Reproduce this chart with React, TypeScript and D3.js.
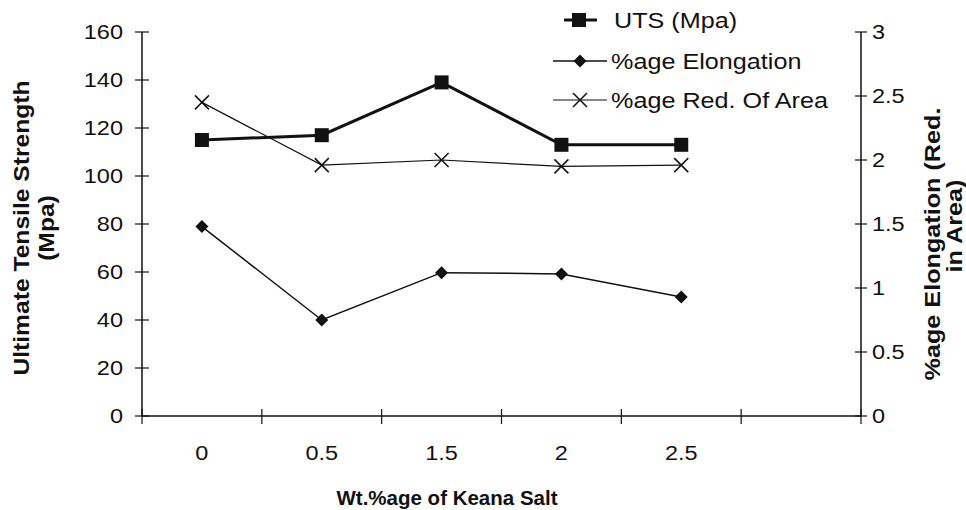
import React from "react";
import * as d3 from "d3";

const categories = ["0", "0.5", "1.5", "2", "2.5", ""];
const uts = [115, 117, 139, 113, 113];
const elongation = [1.48, 0.75, 1.12, 1.11, 0.93];
const redArea = [2.45, 1.96, 2.0, 1.95, 1.96];
const leftTicks = [0, 20, 40, 60, 80, 100, 120, 140, 160];
const rightTicks = [0, 0.5, 1, 1.5, 2, 2.5, 3];

const FONT = "'Liberation Sans', Arial, sans-serif";

function T({ x, y, anchor = "start", size = 21, bold = false, rotate = 0, sx = 1.12, children }: any) {
  return (
    <g transform={`translate(${x},${y}) rotate(${rotate}) scale(${sx},1)`}>
      <text
        x={0}
        y={0}
        textAnchor={anchor}
        dominantBaseline="central"
        fontFamily={FONT}
        fontSize={size}
        fontWeight={bold ? "bold" : "normal"}
        fill="#111"
      >
        {children}
      </text>
    </g>
  );
}

export default function App() {
  const W = 966, H = 510;
  const left = 142, right = 861, top = 32, bottom = 416;
  const x = d3.scaleBand<string>().domain(categories.map((c, i) => String(i))).range([left, right]);
  const cx = (i: number) => (x(String(i)) as number) + x.bandwidth() / 2;
  const yL = d3.scaleLinear().domain([0, 160]).range([bottom, top]);
  const yR = d3.scaleLinear().domain([0, 3]).range([bottom, top]);

  const lineL = d3.line<number>().x((_, i) => cx(i)).y((d) => yL(d));
  const lineR = d3.line<number>().x((_, i) => cx(i)).y((d) => yR(d));

  const boundaries = d3.range(categories.length + 1).map((i) => left + i * x.step());

  const diamond = (px: number, py: number, r = 6.5) =>
    `M${px},${py - r}L${px + r},${py}L${px},${py + r}L${px - r},${py}Z`;
  const cross = (px: number, py: number, r = 7) =>
    `M${px - r},${py - r}L${px + r},${py + r}M${px - r},${py + r}L${px + r},${py - r}`;

  return (
    <svg width={W} height={H} style={{ position: "absolute", left: 0, top: 0, background: "#fff" }}>
      <rect width={W} height={H} fill="#fff" />
      {/* axes */}
      <line x1={left} x2={left} y1={top} y2={bottom} stroke="#111" strokeWidth={1.5} />
      <line x1={right} x2={right} y1={top} y2={bottom} stroke="#111" strokeWidth={1.5} />
      <line x1={left} x2={right} y1={bottom} y2={bottom} stroke="#111" strokeWidth={1.5} />
      {leftTicks.map((t) => (
        <g key={"l" + t}>
          <line x1={left - 7} x2={left + 7} y1={yL(t)} y2={yL(t)} stroke="#111" strokeWidth={1.2} />
          <T x={123} y={yL(t)} anchor="end">{String(t)}</T>
        </g>
      ))}
      {rightTicks.map((t) => (
        <g key={"r" + t}>
          <line x1={right - 6} x2={right + 6} y1={yR(t)} y2={yR(t)} stroke="#111" strokeWidth={1.2} />
          <T x={872} y={yR(t)} anchor="start">{String(t)}</T>
        </g>
      ))}
      {boundaries.map((b, i) => (
        <line key={"b" + i} x1={b} x2={b} y1={bottom - 7} y2={bottom + 8} stroke="#111" strokeWidth={1.2} />
      ))}
      {categories.map((c, i) => (
        <T key={"c" + i} x={cx(i)} y={453} anchor="middle">{c}</T>
      ))}
      {/* titles */}
      <T x={447} y={497} anchor="middle" bold size={20.5} sx={1}>Wt.%age of Keana Salt</T>
      <T x={21} y={228} anchor="middle" bold size={22} rotate={-90}>Ultimate Tensile Strength</T>
      <T x={46} y={228} anchor="middle" bold size={22} rotate={-90}>(Mpa)</T>
      <T x={932} y={244} anchor="middle" bold size={22.5} rotate={-90}>%age Elongation (Red.</T>
      <T x={954} y={226} anchor="middle" bold size={22.5} rotate={-90}>in Area)</T>

      {/* series: red. of area */}
      <path d={lineR(redArea) || ""} fill="none" stroke="#111" strokeWidth={1.2} />
      {redArea.map((v, i) => (
        <path key={"x" + i} d={cross(cx(i), yR(v))} stroke="#111" strokeWidth={1.5} fill="none" />
      ))}
      {/* elongation */}
      <path d={lineR(elongation) || ""} fill="none" stroke="#111" strokeWidth={1.5} />
      {elongation.map((v, i) => (
        <path key={"d" + i} d={diamond(cx(i), yR(v))} fill="#111" />
      ))}
      {/* UTS */}
      <path d={lineL(uts) || ""} fill="none" stroke="#111" strokeWidth={3} />
      {uts.map((v, i) => (
        <rect key={"s" + i} x={cx(i) - 7} y={yL(v) - 7} width={14} height={14} fill="#111" />
      ))}

      {/* legend */}
      <line x1={564} x2={597} y1={20} y2={20} stroke="#111" strokeWidth={3} />
      <rect x={572} y={13} width={14} height={14} fill="#111" />
      <T x={614} y={20} size={22.5}>UTS (Mpa)</T>
      <line x1={553} x2={607} y1={61} y2={61} stroke="#111" strokeWidth={1.5} />
      <path d={diamond(580, 61)} fill="#111" />
      <T x={611} y={61} size={22.5}>%age Elongation</T>
      <line x1={553} x2={607} y1={100} y2={100} stroke="#111" strokeWidth={1.2} />
      <path d={cross(580, 100)} stroke="#111" strokeWidth={1.5} fill="none" />
      <T x={611} y={100} size={22.5}>%age Red. Of Area</T>
    </svg>
  );
}
